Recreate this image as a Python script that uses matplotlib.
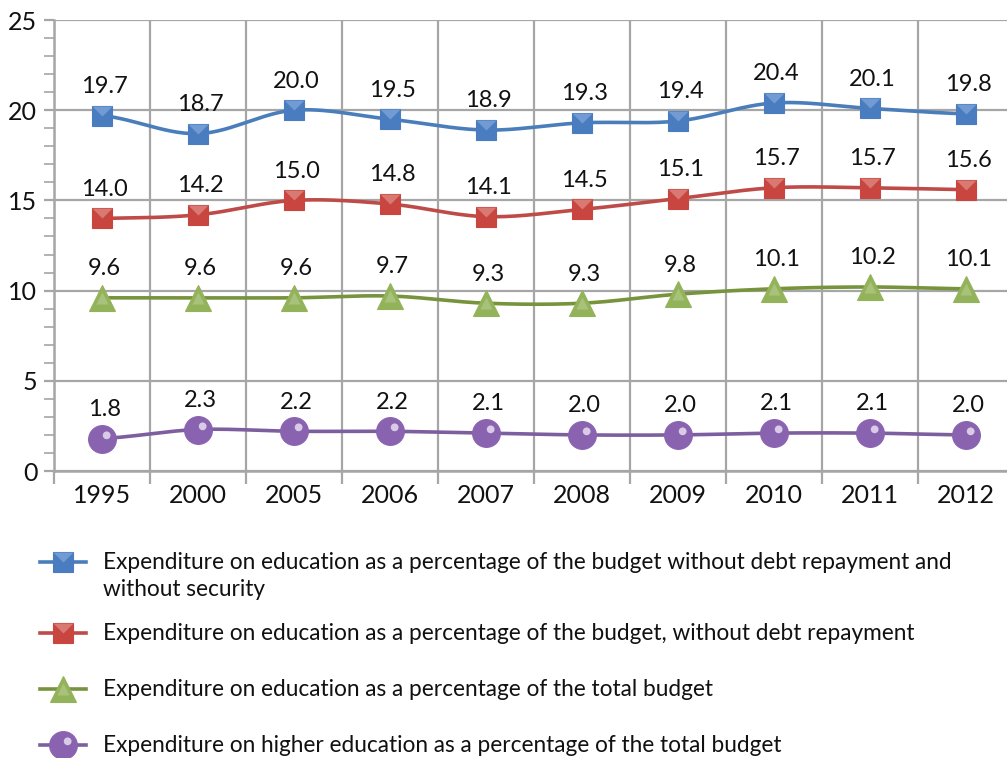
import numpy as np
import matplotlib
matplotlib.use("Agg")
import matplotlib.pyplot as plt
from matplotlib.lines import Line2D
from matplotlib.path import Path
from matplotlib.ticker import MultipleLocator, FixedLocator, NullFormatter, FixedFormatter

plt.rcParams['font.family'] = ['Lato', 'DejaVu Sans']

years = ['1995', '2000', '2005', '2006', '2007', '2008', '2009', '2010', '2011', '2012']
budget_no_debt_no_security = [19.7, 18.7, 20.0, 19.5, 18.9, 19.3, 19.4, 20.4, 20.1, 19.8]
budget_no_debt = [14.0, 14.2, 15.0, 14.8, 14.1, 14.5, 15.1, 15.7, 15.7, 15.6]
total_budget = [9.6, 9.6, 9.6, 9.7, 9.3, 9.3, 9.8, 10.1, 10.2, 10.1]
higher_education = [1.8, 2.3, 2.2, 2.2, 2.1, 2.0, 2.0, 2.1, 2.1, 2.0]

labels = [
    "Expenditure on education as a percentage of the budget without debt repayment and\nwithout security",
    "Expenditure on education as a percentage of the budget, without debt repayment",
    "Expenditure on education as a percentage of the total budget",
    "Expenditure on higher education as a percentage of the total budget",
]

series = [budget_no_debt_no_security, budget_no_debt, total_budget, higher_education]
styles = [
    dict(line='#4a7ebb', face='#4a7dc0', light='#7ea3d8', marker='s', ms=15),
    dict(line='#be4b48', face='#c9453f', light='#dc8880', marker='s', ms=15),
    dict(line='#77933c', face='#93b35a', light='#b3c98a', marker='^', ms=19),
    dict(line='#7d5fa0', face='#8a63b0', light='#f4eff9', marker='o', ms=20),
]

# upper "envelope flap" of the square markers: top corners down to the centre
flap = Path([(-1, 1), (1, 1), (0, 0), (-1, 1)],
            [Path.MOVETO, Path.LINETO, Path.LINETO, Path.CLOSEPOLY])
# glare on the upper right of the round markers
glare = Path.circle(center=(0.3, 0.3), radius=0.28)

highlight = {
    's': (flap, 0.95, 0.8),
    '^': ('^', 0.45, 0.7),
    'o': (glare, 0.58, 0.75),
}


def smooth(xs, ys, n=30):
    """Bezier spline through the points, like a smoothed line chart."""
    xs = np.asarray(xs, float)
    ys = np.asarray(ys, float)
    px = np.concatenate([[2 * xs[0] - xs[1]], xs, [2 * xs[-1] - xs[-2]]])
    py = np.concatenate([[ys[0]], ys, [ys[-1]]])
    out_x, out_y = [], []
    t = np.linspace(0, 1, n)
    for i in range(1, len(px) - 2):
        p0x, p1x, p2x, p3x = px[i - 1:i + 3]
        p0y, p1y, p2y, p3y = py[i - 1:i + 3]
        c1x, c1y = p1x + (p2x - p0x) / 6, p1y + (p2y - p0y) / 6
        c2x, c2y = p2x - (p3x - p1x) / 6, p2y - (p3y - p1y) / 6
        bx = (1 - t) ** 3 * p1x + 3 * (1 - t) ** 2 * t * c1x + 3 * (1 - t) * t ** 2 * c2x + t ** 3 * p2x
        by = (1 - t) ** 3 * p1y + 3 * (1 - t) ** 2 * t * c1y + 3 * (1 - t) * t ** 2 * c2y + t ** 3 * p2y
        out_x.append(bx)
        out_y.append(by)
    return np.concatenate(out_x), np.concatenate(out_y)


def marker_lines(xs, ys, st, **kw):
    """Base marker plus its lighter highlight, as two Line2D artists."""
    base = Line2D(xs, ys, linestyle='none', marker=st['marker'], ms=st['ms'],
                  mfc=st['face'], mec=st['face'], mew=0.8, zorder=4, **kw)
    hl_marker, hl_scale, hl_alpha = highlight[st['marker']]
    top = Line2D(xs, ys, linestyle='none', marker=hl_marker, ms=st['ms'] * hl_scale,
                 mfc=st['light'], mec='none', alpha=hl_alpha, zorder=5, **kw)
    return base, top


W, H = 1007, 758
fig = plt.figure(figsize=(W / 100, H / 100), dpi=100)
ax = fig.add_axes([54 / W, 1 - 471 / H, 1 - 54 / W, (471 - 20) / H])

x = np.arange(len(years))
grid_col = '#a6a6a6'

for vals, st in zip(series, styles):
    sx, sy = smooth(x, vals)
    ax.plot(sx, sy, color=st['line'], lw=2.6, zorder=3, solid_capstyle='round')
    for artist in marker_lines(x, vals, st):
        ax.add_line(artist)
    for xi, v in zip(x, vals):
        ax.annotate(f"{v:.1f}", (xi, v), xytext=(2, 21), textcoords='offset points',
                    ha='center', va='center', fontsize=17, color='#111111', zorder=6)

ax.set_xlim(-0.5, 9.43)
ax.set_ylim(0, 25)

ax.yaxis.set_major_locator(MultipleLocator(5))
ax.yaxis.set_minor_locator(MultipleLocator(1))
ax.xaxis.set_major_locator(FixedLocator(np.arange(-0.5, 10, 1.0)))
ax.xaxis.set_major_formatter(NullFormatter())
ax.xaxis.set_minor_locator(FixedLocator(x))
ax.xaxis.set_minor_formatter(FixedFormatter(years))

ax.tick_params(axis='y', which='major', length=7, width=1.6, color=grid_col,
               labelsize=18, pad=5, labelcolor='#111111')
ax.tick_params(axis='y', which='minor', length=7, width=1.2, color=grid_col)
ax.tick_params(axis='x', which='major', length=9, width=1.6, color=grid_col)
ax.tick_params(axis='x', which='minor', length=0, labelsize=18, pad=9,
               labelcolor='#111111')

ax.grid(True, which='major', color=grid_col, lw=1.6, zorder=0)
ax.set_axisbelow(True)
for side in ('top', 'right'):
    ax.spines[side].set_visible(False)
for side in ('left', 'bottom'):
    ax.spines[side].set_color(grid_col)
    ax.spines[side].set_linewidth(1.8)

# Legend drawn in figure pixels below the plot
legend_rows = [562, 633, 689, 745]
text_centres = [576, 633, 689, 745]
for st, lab, yrow, ytxt in zip(styles, labels, legend_rows, text_centres):
    yf = 1 - yrow / H
    fig.add_artist(Line2D([40 / W, 86 / W], [yf, yf], transform=fig.transFigure,
                          color=st['line'], lw=2.6))
    for artist in marker_lines([63 / W], [yf], st, transform=fig.transFigure):
        fig.add_artist(artist)
    fig.text(103 / W, 1 - ytxt / H, lab, fontsize=16.3, va='center', ha='left',
             color='#111111', linespacing=1.35)

fig.savefig('out.png', dpi=100)
